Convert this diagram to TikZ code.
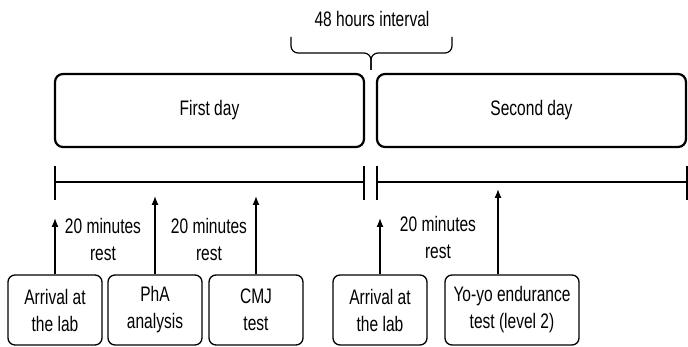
\documentclass[tikz,border=0pt]{standalone}
\usepackage{fontspec}
\setmainfont[FakeStretch=0.74]{Liberation Sans}
\usepackage{tikz}
\usetikzlibrary{arrows.meta}

\begin{document}
\begin{tikzpicture}[x=1pt,y=-1pt,
  every node/.style={font=\fontsize{21}{27}\selectfont,align=center},
  tline/.style={line width=2.2pt},
  arr/.style={line width=1.3pt,-{Latex[length=9pt,width=7pt]}}]
  \useasboundingbox (0,0) rectangle (688,347);
  % the two days
  \begin{scope}[every node/.append style={draw,line width=2.2pt,rounded corners=8pt,minimum height=73pt,inner sep=0pt}]
  \node[minimum width=309pt] (day1) at (209.5,110.5) {First day};
  \node[minimum width=309pt] (day2) at (531.5,110.5) {Second day};
  \end{scope}
  % interval brace
  \node (gap) at (372,19) {48 hours interval};
  \draw[line width=1.2pt,rounded corners=7pt] (291,37) -- (291,53) -- (371,53) -- (371,70);
  \draw[line width=1.2pt,rounded corners=7pt] (452,37) -- (452,53) -- (371,53) -- (371,70);
  % time lines
  \coordinate (l1) at (55,182);
  \coordinate (r1) at (364,182);
  \coordinate (l2) at (377,182);
  \coordinate (r2) at (687,182);
  \draw[tline] (l1) -- (r1);
  \draw[tline] (l2) -- (r2);
  \foreach \t in {l1,r1,l2,r2}
    \draw[tline] (\t) ++(0,-16) -- ++(0,34);
  % steps
  \begin{scope}[every node/.append style={draw,line width=1.3pt,rounded corners=7pt,minimum height=70pt,inner sep=2pt}]
  \node[minimum width=94pt] (a1) at (55,310) {Arrival at\\the lab};
  \node[minimum width=94pt] (a2) at (155,310) {PhA\\analysis};
  \node[minimum width=94pt] (a3) at (256,310) {CMJ\\test};
  \node[minimum width=94pt] (a4) at (380,310) {Arrival at\\the lab};
  \node[minimum width=134pt] (a5) at (512,310) {Yo-yo endurance\\test (level 2)};
  \end{scope}
  \coordinate (t1) at (a1.north |- 0,218);
  \coordinate (t2) at (a2.north |- 0,196);
  \coordinate (t3) at (a3.north |- 0,196);
  \coordinate (t4) at (a4.north |- 0,218);
  \coordinate (t5) at (498,189);
  \draw[arr] (a1.north) -- (t1);
  \draw[arr] (a2.north) -- (t2);
  \draw[arr] (a3.north) -- (t3);
  \draw[arr] (a4.north) -- (t4);
  \draw[arr] (a5.north -| t5) -- (t5);
  % rest periods
  \node (rest1) at (103,239) {20 minutes\\rest};
  \node (rest2) at (209,239) {20 minutes\\rest};
  \node (rest3) at (438,237) {20 minutes\\rest};
\end{tikzpicture}
\end{document}
